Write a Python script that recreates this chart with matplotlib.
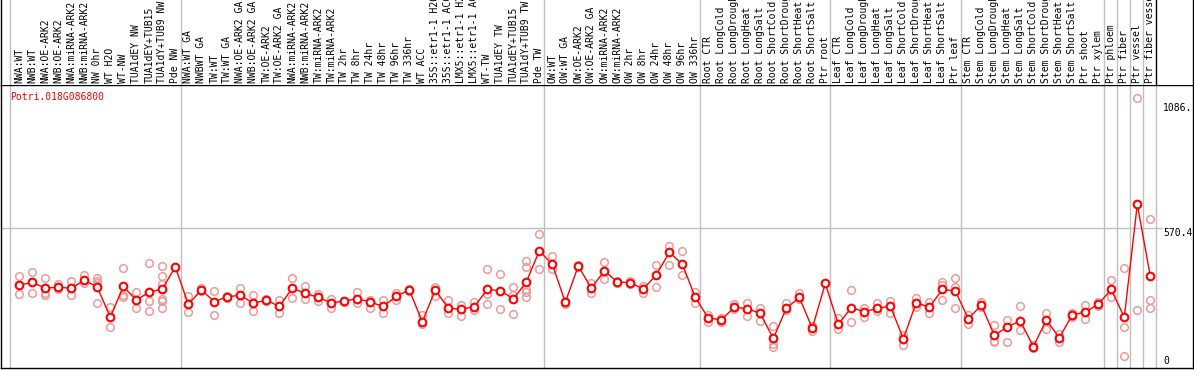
import matplotlib
matplotlib.use("Agg")
import matplotlib.pyplot as plt

gene = "Potri.018G086800"

labels = [
    "NWA:WT", "NWB:WT", "NWA:OE-ARK2", "NWB:OE-ARK2", "NWA:miRNA-ARK2", "NWB:miRNA-ARK2",
    "NW 0hr", "WT H2O", "WT-NW", "TUA1dEY NW", "TUA1dEY+TUB15", "TUA1dY+TUB9 NW", "Pde NW",
    "NWA:WT GA", "NWBWT GA", "TW:WT", "TW:WT GA", "NWA:OE-ARK2 GA", "NWB:OE-ARK2 GA",
    "TW:OE-ARK2", "TW:OE-ARK2 GA", "NWA:miRNA-ARK2", "NWB:miRNA-ARK2", "TW:miRNA-ARK2",
    "TW:miRNA-ARK2", "TW 2hr", "TW 8hr", "TW 24hr", "TW 48hr", "TW 96hr", "TW 336hr",
    "WT ACC", "35S::etr1-1 H2O", "35S::etr1-1 ACC", "LMX5::etr1-1 H2O", "LMX5::etr1-1 ACC",
    "WT-TW", "TUA1dEY TW", "TUA1dEY+TUB15", "TUA1dY+TUB9 TW", "Pde TW",
    "OW:WT", "OW:WT GA", "OW:OE-ARK2", "OW:OE-ARK2 GA", "OW:miRNA-ARK2", "OW:miRNA-ARK2",
    "OW 2hr", "OW 8hr", "OW 24hr", "OW 48hr", "OW 96hr", "OW 336hr",
    "Root CTR", "Root LongCold", "Root LongDrought", "Root LongHeat", "Root LongSalt",
    "Root ShortCold", "Root ShortDrought", "Root ShortHeat", "Root ShortSalt", "Ptr root",
    "Leaf CTR", "Leaf LongCold", "Leaf LongDrought", "Leaf LongHeat", "Leaf LongSalt",
    "Leaf ShortCold", "Leaf ShortDrought", "Leaf ShortHeat", "Leaf ShortSalt", "Ptr leaf",
    "Stem CTR", "Stem LongCold", "Stem LongDrought", "Stem LongHeat", "Stem LongSalt",
    "Stem ShortCold", "Stem ShortDrought", "Stem ShortHeat", "Stem ShortSalt",
    "Ptr shoot", "Ptr xylem", "Ptr phloem", "Ptr fiber", "Ptr vessel", "Ptr fiber vessel",
]

group_sizes = [13, 28, 12, 10, 10, 11, 1, 1, 1, 1]

means = [
    335, 346, 323, 326, 322, 355, 327, 202, 330, 273, 306, 319, 410,
    256, 315, 267, 287, 293, 260, 273, 247, 322, 301, 284, 262, 269, 279, 265, 247,
    289, 315, 184, 315, 239, 236, 246, 317, 312, 278, 348, 476,
    421, 264, 414, 322, 394, 348, 345, 319, 377, 470, 422, 284,
    199, 192, 243, 238, 218, 115, 239, 284, 157, 342,
    173, 242, 225, 239, 249, 114, 263, 243, 317, 311,
    196, 252, 128, 162, 188, 81, 191, 118, 212, 223, 257,
    317, 202, 668, 372,
]

replicates = [
    [372, 298, 335], [388, 301, 346], [363, 304, 293], [339, 317, 326], [352, 296, 322],
    [377, 342, 355], [363, 352, 342, 260], [243, 163], [404, 294, 284], [306, 239],
    [425, 268, 227], [414, 372, 339, 279, 268, 239], [410],
    [290, 223], [322, 310], [311, 210], [283, 290], [323, 260], [294, 227], [268, 278],
    [273, 221], [363, 280], [331, 276], [298, 271], [278, 239], [269, 266], [306, 262],
    [273, 242], [273, 221], [304, 273], [320, 312], [212, 173], [328, 290], [273, 221],
    [253, 207], [267, 232], [400, 298, 256], [381, 236], [326, 294, 214],
    [433, 408, 320, 308, 287], [546, 400],
    [455, 400], [257, 268], [418, 410], [345, 304], [429, 361], [342, 352], [350, 340],
    [304, 330], [416, 326], [496, 416], [474, 377], [308, 262],
    [212, 184], [184, 198], [257, 235], [260, 209], [242, 188], [168, 92, 81], [262, 232],
    [301, 278], [147, 165], [],
    [201, 154], [315, 184], [205, 240], [260, 230], [269, 218], [88, 130], [280, 246],
    [267, 219], [348, 335, 273], [363, 328, 239],
    [210, 173], [267, 245], [169, 104, 100], [191, 99], [247, 150], [74, 88], [221, 155],
    [132, 102], [221, 202], [252, 196], [267, 249],
    [355, 287], [404, 164, 43], [1105, 232], [606, 273, 242],
]

ytick_vals = [0, 570.4, 1086]
ytick_text = ["0", "570.4", "1086."]

W, H = 1194, 370
fig = plt.figure(figsize=(W / 100, H / 100), dpi=100)
font = dict(family="DejaVu Sans Mono", size=7)

# pixel -> data mapping for x: point i at pixel 19.3 + 13 i
xl = (1 - 19.3) / 13
xr = (1193 - 19.3) / 13

ax = fig.add_axes([1 / W, 2 / H, 1192 / W, 283 / H])
hdr = fig.add_axes([1 / W, 285 / H, 1192 / W, 85 / H], sharex=ax)
ax.set_xlim(xl, xr)
ymin, ymax = -7, 1160.5
ax.set_ylim(ymin, ymax)
hdr.set_ylim(0, 1)

for a in (ax, hdr):
    a.set_xticks([])
    a.set_yticks([])
    for s in a.spines.values():
        s.set_color("black")
        s.set_linewidth(1)
hdr.spines["top"].set_visible(False)
hdr.spines["bottom"].set_visible(False)

# group separators
bounds = [-0.1 - 0.6]
acc = 0
for g in group_sizes:
    acc += g
    bounds.append(acc - 0.6)
for i, b in enumerate(bounds):
    ax.axvline(b, color="#c0c0c0", lw=1, zorder=1)
    hdr.axvline(b, color="black" if i == len(bounds) - 1 else "#c0c0c0", lw=1, zorder=1)

ax.axhline(570.4, xmin=0, xmax=(1162 - 1) / 1192, color="#c0c0c0", lw=1, zorder=1)

xs = list(range(len(means)))
for i, reps in enumerate(replicates):
    if reps:
        ax.plot([i] * len(reps), reps, linestyle="none", marker="o", markersize=5.5,
                markerfacecolor="none", markeredgecolor="#ee9a9a", markeredgewidth=1.1, zorder=2)
ax.plot(xs, means, color="red", lw=1, zorder=3)
ax.plot(xs, means, linestyle="none", marker="o", markersize=5.5,
        markerfacecolor="white", markeredgecolor="red", markeredgewidth=1.5, zorder=4)

for v, t in zip(ytick_vals, ytick_text):
    ax.text((1163 - 19.3) / 13, v, t, ha="left", va="bottom" if v == 0 else "top",
            color="black", **font)

fig.text(10 / W, 1 - 97 / H, gene, color="red", ha="left", va="center", **font)

for i, lab in enumerate(labels):
    hdr.text(i, 2 / 85, lab, rotation=90, ha="center", va="bottom", color="black",
             clip_on=True, **font)

fig.savefig("out.png", dpi=100)
